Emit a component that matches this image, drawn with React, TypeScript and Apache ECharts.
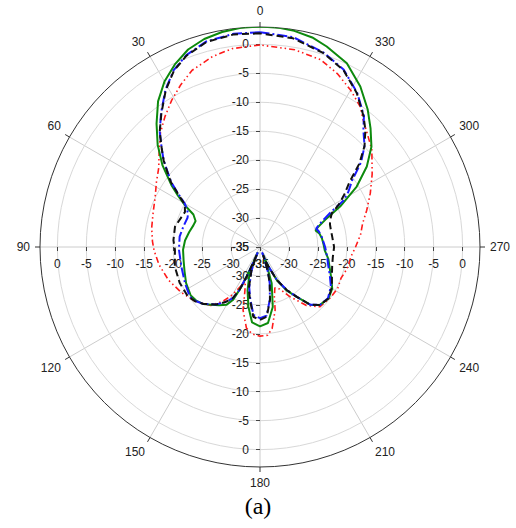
import React, { useEffect, useRef } from 'react';
import * as echarts from 'echarts';

// radial scale (dB) and angular ticks
const RADIUS_MIN = -35;
const RADIUS_MAX = 3;
const RADIUS_STEP = 5;
const RADIUS_TICKS = [-35, -30, -25, -20, -15, -10, -5, 0];
const ANGLE_STEP = 30;

// each entry: [angle in degrees (counter-clockwise from top), gain in dB]
const GREEN_SOLID: [number, number][] = [
  [0, 3.1], [5, 3.0], [10, 2.7], [15, 2.2], [20, 1.3], [25, -0.2], [30, -2.0], [35, -4.3],
  [40, -7.2], [45, -10.0], [50, -13.0], [55, -16.3], [58, -18.3], [61, -20.2], [64, -22.2],
  [68, -23.0], [72, -22.9], [78, -22.5], [85, -22.0], [92, -21.7], [100, -21.6], [108, -21.3],
  [116, -20.8], [125, -20.4], [130, -20.6], [135, -21.1], [140, -22.0], [145, -22.7], [150, -23.5],
  [153, -24.8], [155, -27.5], [156.5, -31.5], [157.5, -34], [158.5, -31], [160, -29.5], [164, -27.2],
  [169, -24.5], [174, -21.9], [180, -21.3], [186, -21.8], [192, -24.4], [197.8, -28.4], [200, -31.5],
  [201.5, -33.8], [203, -31.5], [207, -28.5], [212, -26.0], [216.5, -24.3], [221, -21.8], [226, -20.6],
  [233, -20.2], [240, -20.6], [246, -21.5], [253, -22.4], [260, -23.0], [267, -23.8], [272, -24.0],
  [278, -24.2], [283, -24.5], [286.5, -25.0], [289, -24.4], [292.6, -22.8], [296.8, -19.5], [302, -15.3],
  [307, -11.9], [312, -9.1], [317, -7.0], [322, -4.8], [328, -2.3], [334.7, 0.1], [341.6, 1.5],
  [346, 2.3], [351, 2.8], [355, 3.0], [360, 3.1],
];

const BLACK_DASHED: [number, number][] = [
  [0, 1.9], [7, 2.0], [14.6, 1.6], [21, 0.4], [26, -1.1], [31, -3.4], [36.4, -6.3], [41, -8.6],
  [45, -11.0], [48, -12.6], [51, -14.4], [54, -16.0], [57, -18.1], [60, -19.8], [62, -20.3],
  [65, -20.7], [69, -20.5], [76.5, -19.9], [85.5, -20.0], [92, -20.3], [103, -19.9], [114, -19.8],
  [124, -19.9], [130, -20.4], [135, -21.1], [142.6, -22.5], [148, -23.8], [152, -25.0], [154.5, -26.8],
  [156, -30], [157.5, -33.5], [159, -32], [160.5, -30.5], [165, -27.5], [169.3, -25.7], [174.5, -22.9],
  [180, -22.4], [185.5, -22.9], [190.7, -25.7], [195, -28.5], [197.6, -30.5], [199, -32], [200.5, -33.5],
  [202, -32], [207, -28.6], [212, -26.2], [216.4, -24.3], [221, -21.8], [226, -20.6], [233, -20.2],
  [241, -20.8], [248, -21.6], [255, -22.1], [262, -22.3], [270, -22.2], [278, -22.4], [284, -22.4],
  [288, -22.3], [291, -22.0], [295.2, -21.3], [298.2, -19.6], [302, -17.8], [305.8, -16.0], [310, -12.6],
  [314, -9.9], [318, -7.8], [321.6, -6.2], [327.8, -3.6], [334.8, -1.2], [342, 0.25], [351, 1.5], [360, 1.9],
];

const BLUE_DASHDOT: [number, number][] = [
  [0, 2.1], [7, 2.1], [14.6, 1.7], [21, 0.5], [26, -1.0], [31, -3.3], [36.4, -6.2], [41, -8.6],
  [45, -11.0], [48, -12.6], [51, -14.5], [54, -16.1], [57, -18.2], [60, -20.0], [62, -20.6],
  [65, -21.3], [68, -21.5], [75, -21.3], [82.6, -21.0], [92, -21.0], [104, -21.0], [116, -20.6],
  [125.4, -20.15], [130, -20.5], [135, -21.1], [142.6, -22.5], [148, -23.8], [152, -25.0], [154.5, -26.8],
  [156, -30.5], [157.5, -34], [159, -32], [160.5, -30.5], [165, -27.8], [169.3, -25.9], [174.5, -23.2],
  [180, -22.7], [185.5, -23.1], [190.7, -25.8], [195, -28.5], [197.6, -30.5], [199, -32], [200.5, -34],
  [202, -32], [207, -28.6], [212, -26.2], [216.4, -24.3], [221, -21.8], [226, -20.6], [233, -20.3],
  [241, -21.0], [248, -22.0], [255, -22.8], [262, -23.3], [270, -23.75], [279.5, -24.2], [285, -24.5],
  [288.2, -24.8], [292, -23.6], [296, -21.5], [299, -18.6], [302, -17.0], [305.8, -15.4], [310, -12.2],
  [314, -9.9], [318.6, -8.0], [321.6, -6.1], [327.8, -3.5], [334.8, -1.1], [342, 0.35], [351, 1.7], [360, 2.1],
];

const RED_DASHDOTDOT: [number, number][] = [
  [0, -0.1], [8, -0.4], [14, -1.1], [21, -2.3], [26, -3.8], [31, -5.4], [36, -7.1], [41, -8.8],
  [46, -10.8], [52, -12.8], [58, -13.9], [65, -15.0], [72, -15.6], [80, -16.0], [87, -16.4],
  [92, -16.7], [100, -17.3], [110, -18.2], [120, -19.3], [130, -20.4], [140, -21.8], [146, -23.8],
  [150, -25.5], [153.5, -27.3], [157, -28.5], [161, -27.0], [165, -23.7], [170.5, -20.8], [175, -19.9],
  [180, -19.6], [185, -19.7], [188.5, -20.8], [193.5, -23.8], [196, -26.0], [200, -27.5], [205, -27.0],
  [211, -25.0], [218.5, -22.1], [225, -20.4], [234.5, -20.0], [242, -19.8], [249, -20.0], [256, -19.5],
  [264, -19.2], [270, -18.5], [277, -17.5], [283, -16.8], [289, -15.5], [296, -13.8], [303, -11.9],
  [311, -9.4], [316, -8.2], [321, -6.7], [324.5, -5.2], [330, -3.7], [336, -2.2], [342, -1.0],
  [350, -0.4], [360, -0.1],
];

const CENTER: [number, number] = [260, 247];
const RADIUS = 220;
const LABEL_FONT = 'Arial, "Liberation Sans", sans-serif';
const LABEL_COLOR = '#222';

function radiusAxis(polarIndex: number, opts: any) {
  return {
    polarIndex,
    type: 'value',
    min: RADIUS_MIN,
    max: RADIUS_MAX,
    interval: RADIUS_STEP,
    axisLine: { show: false },
    axisTick: {
      show: true,
      customValues: RADIUS_TICKS,
      length: opts.tickLength,
      lineStyle: { color: '#444', width: 1 },
    },
    axisLabel: {
      customValues: RADIUS_TICKS,
      margin: opts.margin,
      align: opts.align,
      verticalAlign: opts.verticalAlign,
      color: LABEL_COLOR,
      fontSize: 12,
      fontFamily: LABEL_FONT,
    },
    splitLine: opts.split
      ? {
          show: true,
          lineStyle: {
            color: ['#d8d8d8', '#d8d8d8', '#d8d8d8', '#d8d8d8', '#d8d8d8', '#d8d8d8', '#d8d8d8', '#d8d8d8', '#333'],
            width: 1,
          },
        }
      : { show: false },
    z: 1,
  };
}

function hiddenAngleAxis(polarIndex: number, startAngle: number) {
  return {
    polarIndex,
    type: 'value',
    min: 0,
    max: 360,
    interval: ANGLE_STEP,
    startAngle,
    clockwise: false,
    show: false,
  };
}

function lineSeries(name: string, data: [number, number][], color: string, type: any, width: number, z: number) {
  return {
    type: 'line',
    name,
    coordinateSystem: 'polar',
    polarIndex: 0,
    data: data.map(([a, v]) => [v, a]),
    symbol: 'none',
    silent: true,
    lineStyle: { color, width, type, cap: 'butt' },
    z,
  };
}

export default function App() {
  const ref = useRef<HTMLDivElement>(null);
  useEffect(() => {
    const chart = echarts.init(ref.current!, null, { renderer: 'svg' });
    chart.setOption({
      animation: false,
      backgroundColor: '#fff',
      polar: [
        { center: CENTER, radius: RADIUS },
        { center: CENTER, radius: RADIUS },
        { center: CENTER, radius: RADIUS },
        { center: CENTER, radius: RADIUS },
      ],
      angleAxis: [
        {
          polarIndex: 0,
          type: 'value',
          min: 0,
          max: 360,
          interval: ANGLE_STEP,
          startAngle: 90,
          clockwise: false,
          axisLine: { show: true, lineStyle: { color: '#333', width: 1 } },
          axisTick: { show: true, length: 5, lineStyle: { color: '#333', width: 1 } },
          axisLabel: {
            margin: 10,
            color: LABEL_COLOR,
            fontSize: 12,
            fontFamily: LABEL_FONT,
            formatter: (v: number) => (v === 360 ? '' : String(v)),
          },
          splitLine: { show: true, lineStyle: { color: '#cccccc', width: 1 } },
        },
        hiddenAngleAxis(1, 270),
        hiddenAngleAxis(2, 180),
        hiddenAngleAxis(3, 0),
      ],
      radiusAxis: [
        radiusAxis(0, { tickLength: 4, margin: 11, align: 'right', verticalAlign: 'middle', split: true }),
        radiusAxis(1, { tickLength: -4, margin: -11, align: 'right', verticalAlign: 'middle', split: false }),
        radiusAxis(2, { tickLength: 4, margin: 11, align: 'center', verticalAlign: 'top', split: false }),
        radiusAxis(3, { tickLength: -4, margin: -11, align: 'center', verticalAlign: 'top', split: false }),
      ],
      series: [
        lineSeries('red', RED_DASHDOTDOT, '#ff1a1a', [6, 3, 1.5, 3, 1.5, 3], 1.6, 2),
        lineSeries('green', GREEN_SOLID, '#0d8a0d', 'solid', 2, 3),
        lineSeries('blue', BLUE_DASHDOT, '#1a1aff', [10, 3, 2, 3], 2, 4),
        lineSeries('black', BLACK_DASHED, '#111111', [7, 4], 2, 5),
      ],
      graphic: [
        {
          type: 'text',
          left: 'center',
          top: 494,
          style: {
            text: '(a)',
            fontSize: 24,
            fontFamily: '"Times New Roman", "Liberation Serif", serif',
            fill: '#000',
          },
        },
      ],
    });
    return () => chart.dispose();
  }, []);
  return (
    <div
      ref={ref}
      style={{ position: 'absolute', left: 0, top: 0, width: 516, height: 528, background: '#fff' }}
    />
  );
}
